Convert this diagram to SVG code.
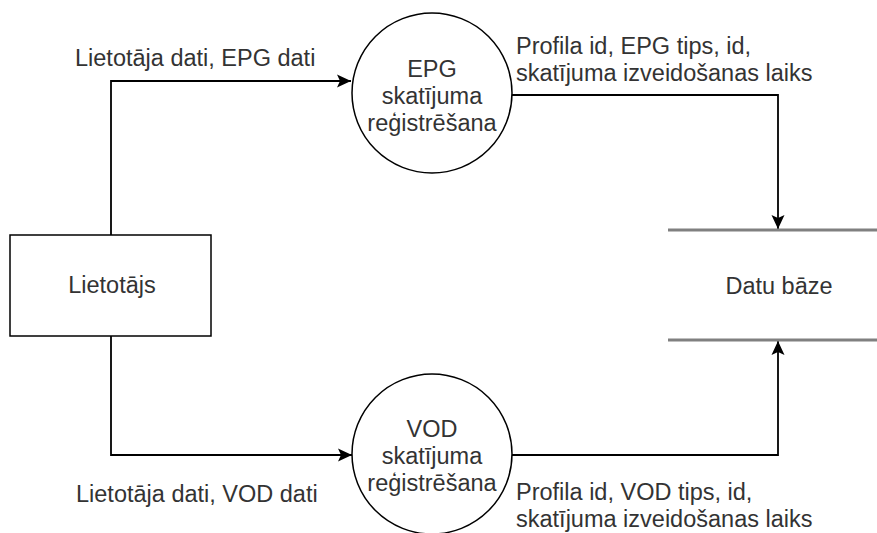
<svg xmlns="http://www.w3.org/2000/svg" width="877" height="533" viewBox="0 0 877 533">
<style>
  text { font-family: "Liberation Sans", Arial, sans-serif; font-size: 23.5px; fill: #333333; }
  .c { text-anchor: middle; }
  .shape { fill: #ffffff; stroke: #000000; stroke-width: 1.5; }
  .store { stroke: #808080; stroke-width: 3; fill: none; }
  .edge { fill: none; stroke: #000000; stroke-width: 1.8; }
</style>
<defs>
  <marker id="arrow" markerUnits="userSpaceOnUse" markerWidth="16" markerHeight="14" refX="14" refY="7" orient="auto">
    <path d="M0,0.5 L14,7 L0,13.5 L3,7 Z" fill="#000000"/>
  </marker>
</defs>
<rect width="877" height="533" fill="#ffffff"/>

<g id="connectors">
  <path class="edge" d="M111,235 L111,81 L351,81" marker-end="url(#arrow)"/>
  <path class="edge" d="M512,95 L778,95 L778,229" marker-end="url(#arrow)"/>
  <path class="edge" d="M111,336 L111,455 L352,455" marker-end="url(#arrow)"/>
  <path class="edge" d="M512,455 L778,455 L778,341" marker-end="url(#arrow)"/>
  <text x="75" y="66">Lietotāja dati, EPG dati</text>
  <text x="516" y="54">Profila id, EPG tips, id,</text>
  <text x="516" y="81">skatījuma izveidošanas laiks</text>
  <text x="76" y="502">Lietotāja dati, VOD dati</text>
  <text x="516" y="500">Profila id, VOD tips, id,</text>
  <text x="516" y="527">skatījuma izveidošanas laiks</text>
</g>

<g id="lietotajs">
  <rect class="shape" x="10" y="235" width="201" height="101"/>
  <text class="c" x="112" y="293">Lietotājs</text>
</g>

<g id="epg">
  <circle class="shape" cx="432" cy="93" r="80"/>
  <text class="c" x="432" y="77">EPG</text>
  <text class="c" x="432" y="104">skatījuma</text>
  <text class="c" x="432" y="131">reģistrēšana</text>
</g>

<g id="vod">
  <circle class="shape" cx="432" cy="454" r="80"/>
  <text class="c" x="432" y="437">VOD</text>
  <text class="c" x="432" y="464">skatījuma</text>
  <text class="c" x="432" y="491">reģistrēšana</text>
</g>

<g id="datubaze">
  <line class="store" x1="668" y1="230" x2="877" y2="230"/>
  <line class="store" x1="668" y1="340" x2="877" y2="340"/>
  <text class="c" x="779" y="294">Datu bāze</text>
</g>
</svg>
